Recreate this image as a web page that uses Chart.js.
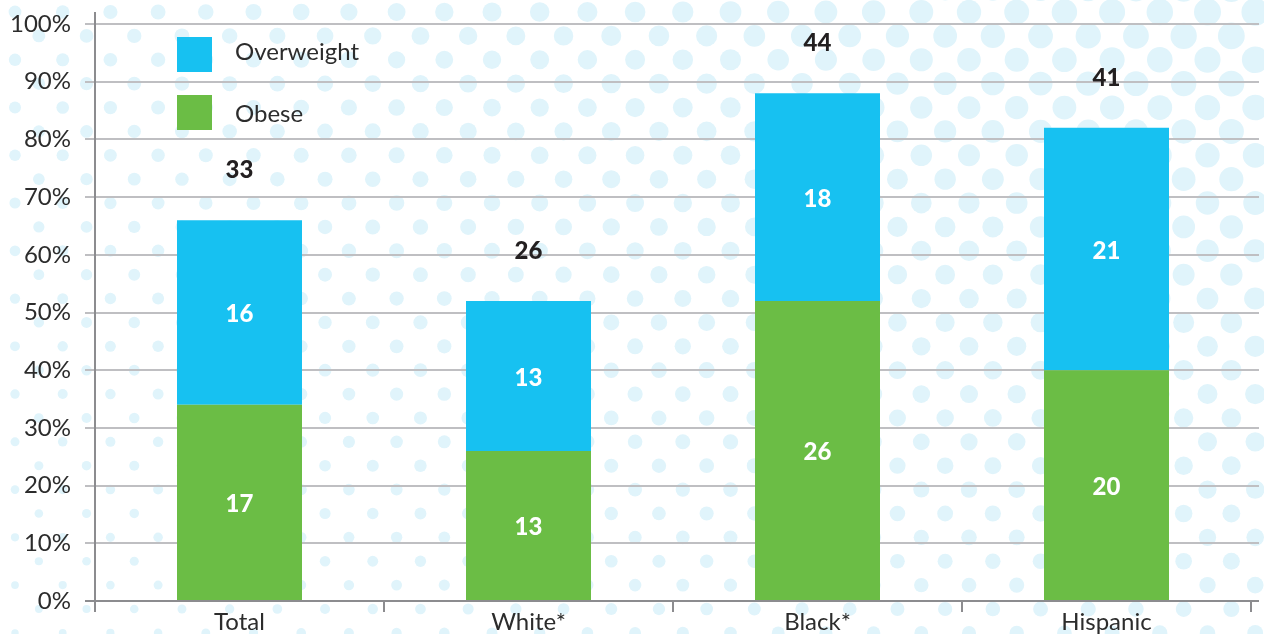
<!DOCTYPE html>
<html><head><meta charset="utf-8">
<script src="https://cdn.jsdelivr.net/npm/chart.js@4/dist/chart.umd.min.js"></script>
<style>html,body{margin:0;padding:0;background:#fff;overflow:hidden}#wrap{width:1264px;height:634px;position:relative}</style>
</head><body><div id="wrap"><canvas id="c" width="1264" height="634"></canvas></div>
<script>
// ---- data ----
const categories = ['Total', 'White*', 'Black*', 'Hispanic'];
const obese = [17, 13, 26, 20];
const overweight = [16, 13, 18, 21];
const totals = [33, 26, 44, 41];
const yTickLabels = ['0%', '10%', '20%', '30%', '40%', '50%', '60%', '70%', '80%', '90%', '100%'];
const seriesNames = ['Obese', 'Overweight'];

// ---- styles ----
const W = 1264, H = 634;
const GREEN = '#6BBD45', BLUE = '#17C1F1';
const GRID = '#BFBFC2', AXIS = '#8C8C8F', TEXT = '#2c2c2c';
const FONT = 'Lato';
Chart.defaults.font.family = FONT;

const dotPlugin = {
  id: 'dots',
  beforeDraw(chart) {
    const ctx = chart.ctx;
    ctx.save();
    ctx.fillStyle = '#fff';
    ctx.fillRect(0, 0, W, H);
    ctx.fillStyle = '#E0F4FB';
    const dx = 47.7, dy = 23.88;
    for (let row = -1; row * dy < H + 20; row++) {
      const y = 12 + row * dy;
      const off = (row % 2 === 0) ? 15 : 38.85;
      for (let x = off - dx; x < W + 20; x += dx) {
        const f = 6.3 + 7.3 * Math.pow(Math.max(x, 0) / 1207, 0.9);
        const g = 1 - 0.00068 * y;
        const r = f * g;
        ctx.beginPath();
        ctx.arc(x, y, r, 0, Math.PI * 2);
        ctx.fill();
      }
    }
    ctx.restore();
  }
};

const gridExt = {
  id: 'gridExt',
  beforeDatasetsDraw(chart) {
    const ctx = chart.ctx, ys = chart.scales.y, ca = chart.chartArea;
    ctx.save();
    ctx.strokeStyle = GRID; ctx.lineWidth = 2;
    ys.ticks.forEach(t => {
      const y = Math.round(ys.getPixelForValue(t.value));
      ctx.beginPath(); ctx.moveTo(ca.right, y); ctx.lineTo(ca.right + 8, y); ctx.stroke();
    });
    ctx.restore();
  },
  afterDatasetsDraw(chart) {
    const ctx = chart.ctx, ca = chart.chartArea;
    ctx.save();
    ctx.strokeStyle = AXIS; ctx.lineWidth = 2;
    ctx.beginPath(); ctx.moveTo(ca.left, ca.top - 12); ctx.lineTo(ca.left, ca.bottom + 11); ctx.stroke();
    ctx.beginPath(); ctx.moveTo(ca.left - 10, ca.bottom); ctx.lineTo(ca.right + 8, ca.bottom); ctx.stroke();
    ctx.restore();

    // value labels
    ctx.save();
    ctx.textAlign = 'center'; ctx.textBaseline = 'middle';
    ctx.font = '900 24px ' + FONT;
    ctx.fillStyle = '#fff';
    chart.data.datasets.forEach((ds, di) => {
      const meta = chart.getDatasetMeta(di);
      meta.data.forEach((el, i) => {
        ctx.fillText(String(ds.data[i]), el.x, (el.y + el.base) / 2 + 2);
      });
    });
    const topMeta = chart.getDatasetMeta(chart.data.datasets.length - 1);
    ctx.fillStyle = '#231f20';
    topMeta.data.forEach((el, i) => {
      ctx.fillText(String(totals[i]), el.x, el.y - 50);
    });
    ctx.restore();

    // legend
    ctx.save();
    const lx = ca.left + 82;
    const items = [[BLUE, seriesNames[1], 37, 52], [GREEN, seriesNames[0], 95, 114]];
    ctx.font = '24px ' + FONT;
    ctx.textBaseline = 'middle'; ctx.textAlign = 'left';
    items.forEach(([c, name, y, ty]) => {
      ctx.fillStyle = c; ctx.fillRect(lx, y, 35, 35);
      ctx.fillStyle = TEXT; ctx.fillText(name, lx + 58, ty);
    });
    ctx.restore();
  }
};

new Chart(document.getElementById('c'), {
  type: 'bar',
  data: {
    labels: categories,
    datasets: [
      { label: seriesNames[0], data: obese, backgroundColor: GREEN, borderWidth: 0 },
      { label: seriesNames[1], data: overweight, backgroundColor: BLUE, borderWidth: 0 }
    ]
  },
  options: {
    responsive: false,
    animation: false,
    devicePixelRatio: 1,
    layout: { padding: { top: 24, right: 13, left: 0, bottom: 0 } },
    plugins: { legend: { display: false }, tooltip: { enabled: false } },
    datasets: { bar: { barPercentage: 0.4325, categoryPercentage: 1 } },
    scales: {
      x: {
        stacked: true,
        afterFit: s => { s.height = 33; s.paddingLeft = 0; s.paddingRight = 0; },
        border: { display: false },
        grid: { display: true, drawOnChartArea: false, drawTicks: true, tickLength: 11, color: AXIS, lineWidth: 2, offset: true },
        ticks: { color: TEXT, font: { size: 24, family: FONT }, padding: -4, maxRotation: 0 }
      },
      y: {
        stacked: true,
        min: 0, max: 50,
        afterFit: s => { s.width = 95; s.paddingTop = 0; s.paddingBottom = 0; },
        border: { display: false },
        grid: { color: GRID, lineWidth: 2, tickLength: 10, drawTicks: true },
        ticks: { stepSize: 5, color: TEXT, font: { size: 24, family: FONT }, padding: 14,
          callback: (v, i) => yTickLabels[i] }
      }
    }
  },
  plugins: [dotPlugin, gridExt]
});
</script></body></html>
